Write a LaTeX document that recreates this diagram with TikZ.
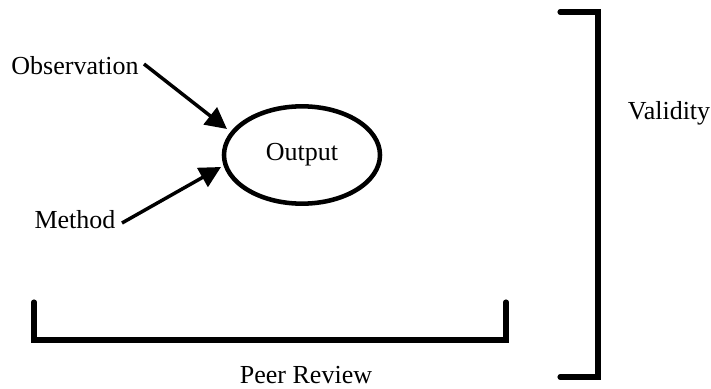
\documentclass[tikz,border=0pt]{standalone}
\usepackage{fontspec}
\setmainfont{Liberation Serif}
\usetikzlibrary{arrows.meta,shapes.geometric}
\begin{document}
\begin{tikzpicture}[x=0.75pt,y=-0.75pt,
  txt/.style={font=\fontsize{19.5}{23}\selectfont, inner sep=0pt},
  feed/.style={line width=2.6pt, -{Triangle[length=16pt,width=16pt]}},
  brace/.style={line width=3.8pt, line cap=round, line join=miter}]
  \useasboundingbox (0,0) rectangle (711,389);
  % central outcome
  \node[ellipse, draw, line width=3.4pt, minimum width=117pt, minimum height=73pt,
        txt] (out) at (302,155) {Output};
  \node[txt] (obs) at (75,66) {Observation};
  \node[txt] (meth) at (75,220) {Method};
  \coordinate (obstip) at (227,129);
  \coordinate (methtip) at (221,167);
  \draw[feed] (144,64) -- (obstip);
  \draw[feed] (122,223) -- (methtip);
  % peer review bracket
  \coordinate (pr1) at (34,302);
  \coordinate (pr2) at (34,340);
  \coordinate (pr3) at (506,340);
  \coordinate (pr4) at (506,302);
  \draw[brace] (pr1) -- (pr2) -- (pr3) -- (pr4);
  \node[txt] (peer) at (306,375) {Peer Review};
  % validity bracket
  \coordinate (v1) at (560,12);
  \coordinate (v2) at (598,12);
  \coordinate (v3) at (598,377);
  \coordinate (v4) at (560,377);
  \draw[brace] (v1) -- (v2) -- (v3) -- (v4);
  \node[txt] (val) at (669,113) {Validity};
\end{tikzpicture}
\end{document}
